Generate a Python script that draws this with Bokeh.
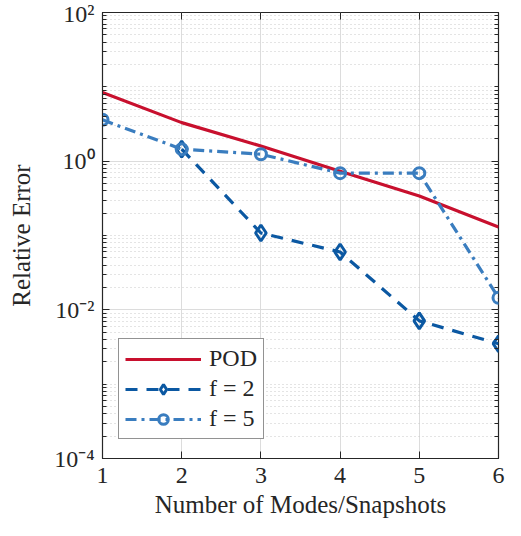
from bokeh.plotting import figure
from bokeh.models import FixedTicker, LinearAxis, LogAxis, Legend, CustomJSTickFormatter
from bokeh.embed import file_html
from bokeh.resources import INLINE

# data
modes = [1, 2, 3, 4, 5, 6]
pod = [8.4, 3.3, 1.6, 0.73, 0.34, 0.13]
f2_modes = [2, 3, 4, 5, 6]
f2 = [1.45, 0.108, 0.06, 0.0071, 0.0035]
f5 = [3.6, 1.45, 1.24, 0.69, 0.69, 0.0145]
x_ticks = [1, 2, 3, 4, 5, 6]
y_ticks = [1e-4, 1e-2, 1.0, 1e2]
y_tick_labels = ["10⁻⁴", "10⁻²", "10⁰", "10²"]
y_minor = sorted(set(k * 10.0 ** e for e in range(-4, 2) for k in range(1, 10)) - set(y_ticks))

FONT = "Liberation Serif"
DARK = "#262626"
RED = "#C8102E"
BLUE2 = "#0B58A2"
BLUE5 = "#3A7DBF"

p = figure(width=505, height=520, y_axis_type="log", x_range=(1, 6), y_range=(1e-4, 1e2),
           output_backend="svg", toolbar_location=None,
           min_border_left=102, min_border_right=7, min_border_top=12, min_border_bottom=60)
p.outline_line_color = DARK
p.outline_line_width = 1.2

r_pod = p.line(modes, pod, line_color=RED, line_width=3.2)
r_f2l = p.line(f2_modes, f2, line_color=BLUE2, line_width=3.2, line_dash="12 9")
r_f2m = p.scatter(f2_modes, f2, marker="diamond", size=16, line_color=BLUE2, line_width=3,
                  fill_color=None)
r_f5l = p.line(modes, f5, line_color=BLUE5, line_width=3.2, line_dash="11 5 3 5")
r_f5m = p.scatter(modes, f5, marker="circle", size=11, line_color=BLUE5, line_width=3,
                  fill_color=None)

legend = Legend(items=[("POD", [r_pod]), ("f = 2", [r_f2l, r_f2m]), ("f = 5", [r_f5l, r_f5m])],
                location=(16, 19), glyph_width=76, glyph_height=24, spacing=3,
                label_text_font=FONT, label_text_font_size="24px", label_standoff=8,
                label_text_color=DARK,
                border_line_color=DARK, border_line_width=1.2, background_fill_alpha=1,
                padding=6, margin=0)
p.add_layout(legend, "center")

# axes
xt = FixedTicker(ticks=x_ticks)
yt = FixedTicker(ticks=y_ticks, minor_ticks=y_minor)
p.xaxis.ticker = xt
p.yaxis.ticker = yt
p.yaxis.major_label_overrides = dict(zip(y_ticks, y_tick_labels))

for ax in (p.xaxis[0], p.yaxis[0]):
    ax.major_label_text_font = FONT
    ax.major_label_text_font_size = "24px"
    ax.major_label_text_color = DARK
    ax.axis_label_text_font = FONT
    ax.axis_label_text_font_size = "25px"
    ax.axis_label_text_font_style = "normal"
    ax.axis_label_text_color = DARK
    ax.major_tick_in = 7
    ax.major_tick_out = 0
    ax.minor_tick_in = 4
    ax.minor_tick_out = 0
    ax.axis_line_color = DARK
    ax.major_tick_line_color = DARK
    ax.minor_tick_line_color = DARK
p.xaxis.axis_label = "Number of Modes/Snapshots"
p.yaxis.axis_label = "Relative Error"
p.xaxis.major_label_standoff = 9
p.xaxis.axis_label_standoff = 5
p.yaxis.major_label_standoff = 8
p.yaxis.axis_label_standoff = 16
p.xaxis.minor_tick_line_color = None

blank = CustomJSTickFormatter(code="return '';")
ax_r = LogAxis(ticker=yt, formatter=blank, major_tick_in=7, major_tick_out=0, minor_tick_in=4,
               minor_tick_out=0, major_label_standoff=0, axis_line_color=None,
               major_tick_line_color=DARK, minor_tick_line_color=DARK)
p.add_layout(ax_r, "right")
ax_t = LinearAxis(ticker=xt, formatter=blank, major_tick_in=7, major_tick_out=0,
                  minor_tick_line_color=None, major_label_standoff=0, axis_line_color=None,
                  major_tick_line_color=DARK)
p.add_layout(ax_t, "above")

# grids
p.xgrid.ticker = xt
p.ygrid.ticker = yt
p.xgrid.grid_line_color = "#dcdcdc"
p.ygrid.grid_line_color = "#dcdcdc"
p.xgrid.grid_line_width = 1
p.ygrid.grid_line_width = 1
p.ygrid.minor_grid_line_color = "#c8c8c8"
p.ygrid.minor_grid_line_dash = "1 3"
p.ygrid.minor_grid_line_width = 1

open("out.html", "w").write(file_html(p, INLINE))
